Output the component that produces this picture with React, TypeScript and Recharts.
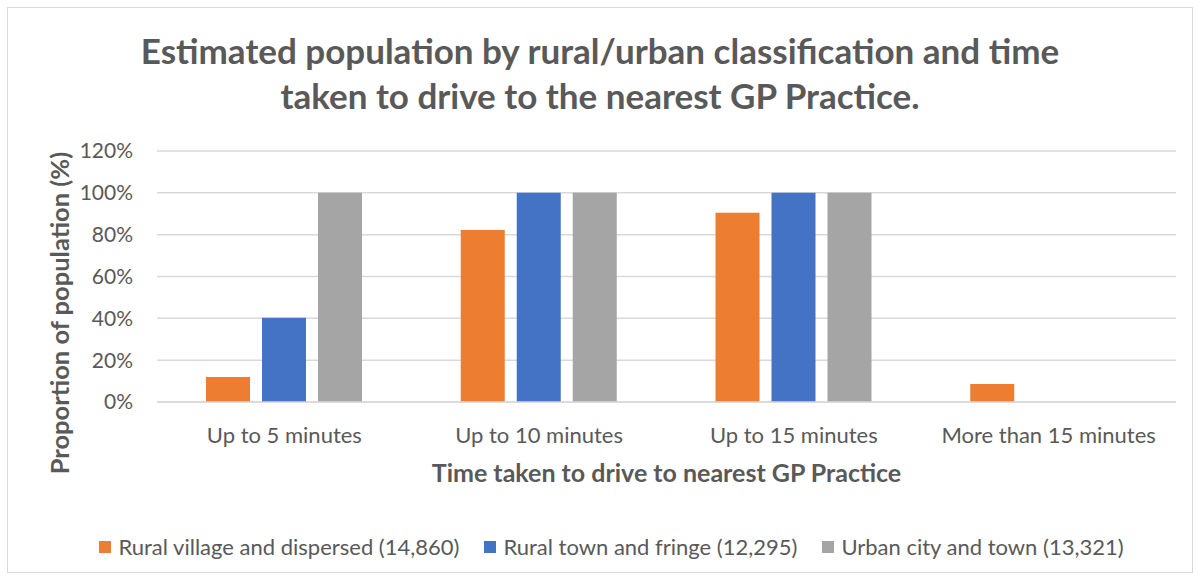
import { BarChart, Bar, XAxis, YAxis, CartesianGrid, Legend } from "recharts";

const categories = [
  "Up to 5 minutes",
  "Up to 10 minutes",
  "Up to 15 minutes",
  "More than 15 minutes",
];
const ruralVillage = [0.12, 0.822, 0.905, 0.086];
const ruralTown = [0.403, 1, 1, 0];
const urbanCity = [1, 1, 1, 0];
const yTicks = [0, 0.2, 0.4, 0.6, 0.8, 1, 1.2];

const series = [
  { key: "ruralVillage", name: "Rural village and dispersed (14,860)", color: "#ED7D31" },
  { key: "ruralTown", name: "Rural town and fringe (12,295)", color: "#4472C4" },
  { key: "urbanCity", name: "Urban city and town (13,321)", color: "#A5A5A5" },
];

const data = categories.map((name, i) => ({
  name,
  ruralVillage: ruralVillage[i],
  ruralTown: ruralTown[i],
  urbanCity: urbanCity[i],
}));

const FONT = "Lato, 'Open Sans', sans-serif";
const TEXT = "#595959";

function LegendRow() {
  return (
    <div
      style={{
        display: "flex",
        justifyContent: "center",
        gap: 25,
        height: 24,
        paddingRight: 30,
        whiteSpace: "nowrap",
        fontFamily: FONT,
        fontSize: 22,
        lineHeight: "24px",
        color: TEXT,
      }}
    >
      {series.map((s) => (
        <div key={s.key} style={{ display: "flex", alignItems: "center" }}>
          <span style={{ width: 12, height: 12, background: s.color, marginRight: 7, display: "inline-block" }} />
          {s.name}
        </div>
      ))}
    </div>
  );
}

export default function App() {
  return (
    <div
      style={{
        position: "absolute",
        left: 7,
        top: 7,
        width: 1184,
        height: 564,
        border: "1px solid #d9d9d9",
        background: "#fff",
      }}
    >
      <div
        style={{
          position: "absolute",
          top: 20,
          left: 0,
          width: "100%",
          textAlign: "center",
          fontFamily: FONT,
          fontWeight: 700,
          fontSize: 35,
          lineHeight: "45px",
          color: TEXT,
        }}
      >
        Estimated population by rural/urban classification and time
        <br />
        taken to drive to the nearest GP Practice.
      </div>
      <div
        style={{
          position: "absolute",
          left: 51 - 200,
          top: 305 - 15,
          width: 400,
          height: 30,
          lineHeight: "30px",
          textAlign: "center",
          transform: "rotate(-90deg)",
          fontFamily: FONT,
          fontWeight: 700,
          fontSize: 25.5,
          color: TEXT,
        }}
      >
        Proportion of population (%)
      </div>
      <BarChart
        width={1184}
        height={564}
        data={data}
        margin={{ top: 143, right: 16, left: 69, bottom: 13 }}
        barSize={44}
        barGap={12}
      >
        <CartesianGrid vertical={false} stroke="#d9d9d9" strokeWidth={1.5} />
        <XAxis
          dataKey="name"
          axisLine={{ stroke: "#d9d9d9", strokeWidth: 1.5 }}
          tickLine={false}
          tickMargin={19}
          height={133}
          tick={{ fill: TEXT, fontSize: 22, fontFamily: FONT }}
          label={{
            value: "Time taken to drive to nearest GP Practice",
            position: "insideBottom",
            offset: 53,
            fill: TEXT,
            fontSize: 25,
            fontWeight: 700,
            fontFamily: FONT,
          }}
        />
        <YAxis
          domain={[0, 1.2]}
          ticks={yTicks}
          width={80}
          axisLine={false}
          tickLine={false}
          tickMargin={18}
          tickFormatter={(v: number) => `${Math.round(v * 100)}%`}
          tick={{ fill: TEXT, fontSize: 21, fontFamily: FONT }}
        />
        <Legend verticalAlign="bottom" height={24} content={() => <LegendRow />} />
        {series.map((s) => (
          <Bar key={s.key} dataKey={s.key} name={s.name} fill={s.color} isAnimationActive={false} />
        ))}
      </BarChart>
    </div>
  );
}
